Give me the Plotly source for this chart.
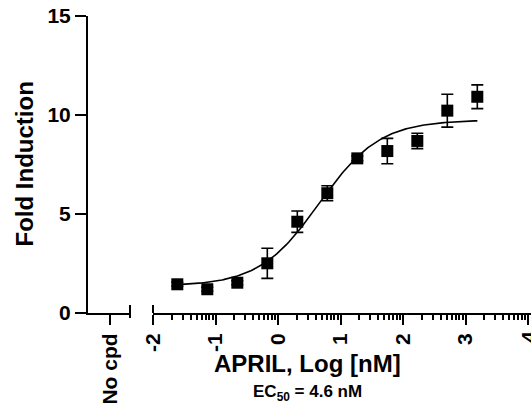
import math
import plotly.graph_objects as go

# ---- data ----
log_conc = [-1.611, -1.131, -0.651, -0.171, 0.309, 0.789, 1.269, 1.749, 2.229, 2.709, 3.189]
fold_induction = [1.45, 1.20, 1.53, 2.51, 4.61, 6.05, 7.81, 8.18, 8.69, 10.22, 10.92]
sem = [0.10, 0.10, 0.10, 0.76, 0.54, 0.38, 0.12, 0.64, 0.39, 0.83, 0.60]

# 4-parameter logistic fit parameters
fit_bottom = 1.35
fit_top = 9.75
fit_log_ec50 = 0.663  # EC50 = 4.6 nM
fit_hill = 0.9
fit_x_start, fit_x_end, fit_n = -1.65, 3.19, 200

x_major_ticks = [-2, -1, 0, 1, 2, 3, 4]
y_ticks = [0, 5, 10, 15]
nocpd_label = "No cpd"

fit_x = [fit_x_start + i * (fit_x_end - fit_x_start) / (fit_n - 1) for i in range(fit_n)]
fit_y = [fit_bottom + (fit_top - fit_bottom) / (1 + 10 ** ((fit_log_ec50 - x) * fit_hill)) for x in fit_x]

minor_ticks = [n + math.log10(k) for n in range(-2, 4) for k in range(2, 10)]

FONT = "Liberation Sans, Arial, sans-serif"

fig = go.Figure()
# empty trace so the "No cpd" axis segment is drawn
fig.add_trace(go.Scatter(x=[None], y=[None], xaxis="x", yaxis="y", mode="markers",
                         showlegend=False, hoverinfo="skip"))
fig.add_trace(go.Scatter(x=fit_x, y=fit_y, mode="lines", xaxis="x2", yaxis="y",
                         line=dict(color="black", width=1.6), showlegend=False,
                         hoverinfo="skip"))
fig.add_trace(go.Scatter(x=log_conc, y=fold_induction, mode="markers", xaxis="x2", yaxis="y",
                         marker=dict(symbol="square", size=12, color="black"),
                         error_y=dict(type="data", array=sem, color="black", thickness=1.6, width=6),
                         showlegend=False, cliponaxis=False))

left_px, right_px, fig_w = 88, 0, 531
plot_w = fig_w - left_px - right_px

# last tick label sits on the page edge (partly cut), drawn as an annotation
edge_tick = x_major_ticks[-1]
tick_text = [str(v) if v != edge_tick else "" for v in x_major_ticks]

fig.update_layout(
    width=fig_w, height=404,
    margin=dict(l=left_px, r=right_px, t=16, b=91),
    paper_bgcolor="white", plot_bgcolor="white",
    font=dict(family=FONT, color="black"),
    xaxis=dict(domain=[0, (130 - left_px) / plot_w], range=[0, 2],
               tickmode="array", tickvals=[1.05], ticktext=[nocpd_label],
               tickangle=-90, ticks="outside", ticklen=10, tickwidth=2, tickcolor="black",
               showline=True, linewidth=2, linecolor="black", showgrid=False, zeroline=False,
               tickfont=dict(size=21, family=FONT, weight="bold", color="black"),
               anchor="y", fixedrange=True),
    xaxis2=dict(domain=[(153 - left_px) / plot_w, 1], range=[-2, 4.048],
                tickmode="array", tickvals=x_major_ticks, ticktext=tick_text,
                tickangle=-90, ticks="outside", ticklen=10, tickwidth=2, tickcolor="black",
                minor=dict(tickmode="array", tickvals=minor_ticks, ticks="outside",
                           ticklen=5, tickwidth=2, tickcolor="black", showgrid=False),
                showline=True, linewidth=2, linecolor="black", showgrid=False, zeroline=False,
                tickfont=dict(size=21, family=FONT, weight="bold", color="black"),
                anchor="y", fixedrange=True),
    yaxis=dict(range=[0, 15], tickmode="array", tickvals=y_ticks,
               ticks="outside", ticklen=11, tickwidth=2, tickcolor="black",
               showline=True, linewidth=2, linecolor="black", showgrid=False, zeroline=False,
               tickfont=dict(size=21, family=FONT, weight="bold", color="black"),
               anchor="x", fixedrange=True),
    shapes=[
        dict(type="line", xref="x domain", yref="paper", x0=1, x1=1, y0=0.027, y1=-0.017,
             line=dict(color="black", width=2)),
        dict(type="line", xref="x2 domain", yref="paper", x0=0, x1=0, y0=0.027, y1=0,
             line=dict(color="black", width=2)),
    ],
    annotations=[
        dict(text="<b>Fold Induction</b>", xref="paper", yref="paper", x=0, y=0.5,
             xshift=-64, textangle=-90, showarrow=False, xanchor="center", yanchor="middle",
             font=dict(size=24, family=FONT, color="black")),
        dict(text="<b>APRIL, Log [nM]</b>", xref="paper", yref="paper",
             x=(307 - left_px) / plot_w, y=0, yshift=-50, showarrow=False,
             xanchor="center", yanchor="middle",
             font=dict(size=24, family=FONT, color="black")),
        dict(text="<b>EC<sub>50</sub> = 4.6 nM</b>", xref="paper", yref="paper",
             x=(307 - left_px) / plot_w, y=0, yshift=-80, showarrow=False,
             xanchor="center", yanchor="middle",
             font=dict(size=17, family=FONT, color="black")),
        dict(text="<b>%d</b>" % edge_tick, xref="x2", yref="paper", x=edge_tick, y=0,
             yshift=-24, textangle=-90, showarrow=False, xanchor="center", yanchor="middle",
             font=dict(size=21, family=FONT, color="black")),
    ],
)

clip_js = (
    "document.documentElement.style.overflow='hidden';"
    "document.body.style.margin='0';document.body.style.overflow='hidden';"
    "document.querySelectorAll('.plotly-graph-div').forEach(function(d){"
    "d.style.overflow='hidden';});"
)
fig.write_html("out.html", config={"displayModeBar": False}, post_script=clip_js)
